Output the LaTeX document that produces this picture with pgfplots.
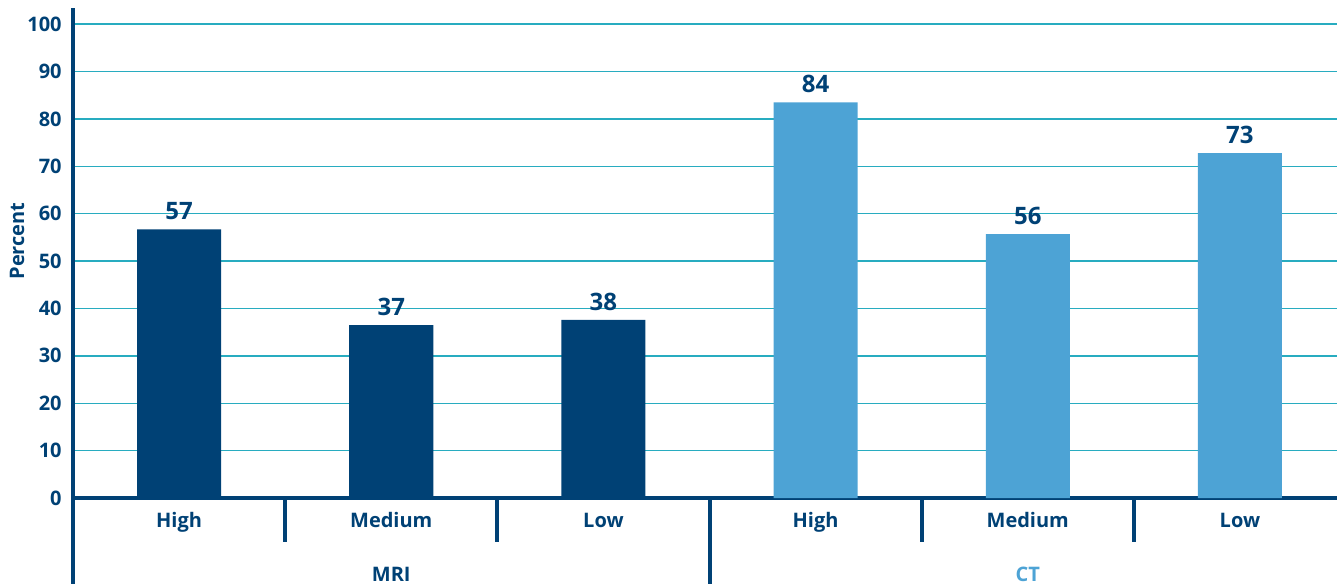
\documentclass[border=0pt]{standalone}
\usepackage{pgfplots}
\pgfplotsset{compat=1.18}
\usepackage{fontspec}
\setmainfont{Open Sans}
\definecolor{darkb}{RGB}{0,65,117}
\definecolor{lightb}{RGB}{77,163,213}
\definecolor{gridc}{RGB}{40,172,192}
\begin{document}
\begin{tikzpicture}
\begin{axis}[
  at={(0,0)}, anchor=south west,
  scale only axis, width=636.5bp, height=245bp,
  xmin=-0.5, xmax=5.5, ymin=0, ymax=103.4,
  axis lines*=left,
  axis line style={-, darkb, line width=2bp},
  ytick={0,10,...,100},
  ymajorgrids, grid style={gridc, line width=0.7bp},
  major tick length=0pt,
  xtick={0,...,5},
  xticklabels={High,Medium,Low,High,Medium,Low},
  tick label style={font=\bfseries\fontsize{10bp}{12bp}\selectfont, text=darkb},
  /pgf/number format/assume math mode=true,
  yticklabel style={anchor=east, inner sep=0pt, xshift=-5.5bp},
  xticklabel style={anchor=base, inner sep=0pt, yshift=-14.5bp},
  ylabel={Percent},
  ylabel style={at={(axis description cs:-0.044,0.5245)}, anchor=center, font=\bfseries\fontsize{10bp}{12bp}\selectfont, text=darkb},
  ybar, bar width=42bp,
  point meta=explicit symbolic,
  nodes near coords,
  nodes near coords style={font=\bfseries\fontsize{12bp}{14bp}\selectfont, text=darkb, anchor=south, inner sep=0pt, yshift=4.5bp},
  clip=false,
]
\addplot[bar shift=0pt, fill=darkb, draw=none] coordinates {(0,56.7) [57] (1,36.5) [37] (2,37.6) [38]};
\addplot[bar shift=0pt, fill=lightb, draw=none] coordinates {(3,83.5) [84] (4,55.7) [56] (5,72.8) [73]};
\draw[darkb, line width=2bp] (rel axis cs:0,0) -- ++(0pt,-43bp);
\draw[darkb, line width=2bp] (axis cs:2.5,0) -- ++(0pt,-43bp);
\draw[darkb, line width=2bp] (axis cs:0.5,0) -- ++(0pt,-22bp);
\draw[darkb, line width=2bp] (axis cs:1.5,0) -- ++(0pt,-22bp);
\draw[darkb, line width=2bp] (axis cs:3.5,0) -- ++(0pt,-22bp);
\draw[darkb, line width=2bp] (axis cs:4.5,0) -- ++(0pt,-22bp);
\node[anchor=base, inner sep=0pt, font=\bfseries\fontsize{10bp}{12bp}\selectfont, text=darkb] at ([yshift=-41.5bp]axis cs:1,0) {MRI};
\node[anchor=base, inner sep=0pt, font=\bfseries\fontsize{10bp}{12bp}\selectfont, text=lightb] at ([yshift=-41.5bp]axis cs:4,0) {CT};
\end{axis}
\pgfresetboundingbox
\path (-36.5bp,-43bp) rectangle (632bp,249bp);
\end{tikzpicture}
\end{document}
